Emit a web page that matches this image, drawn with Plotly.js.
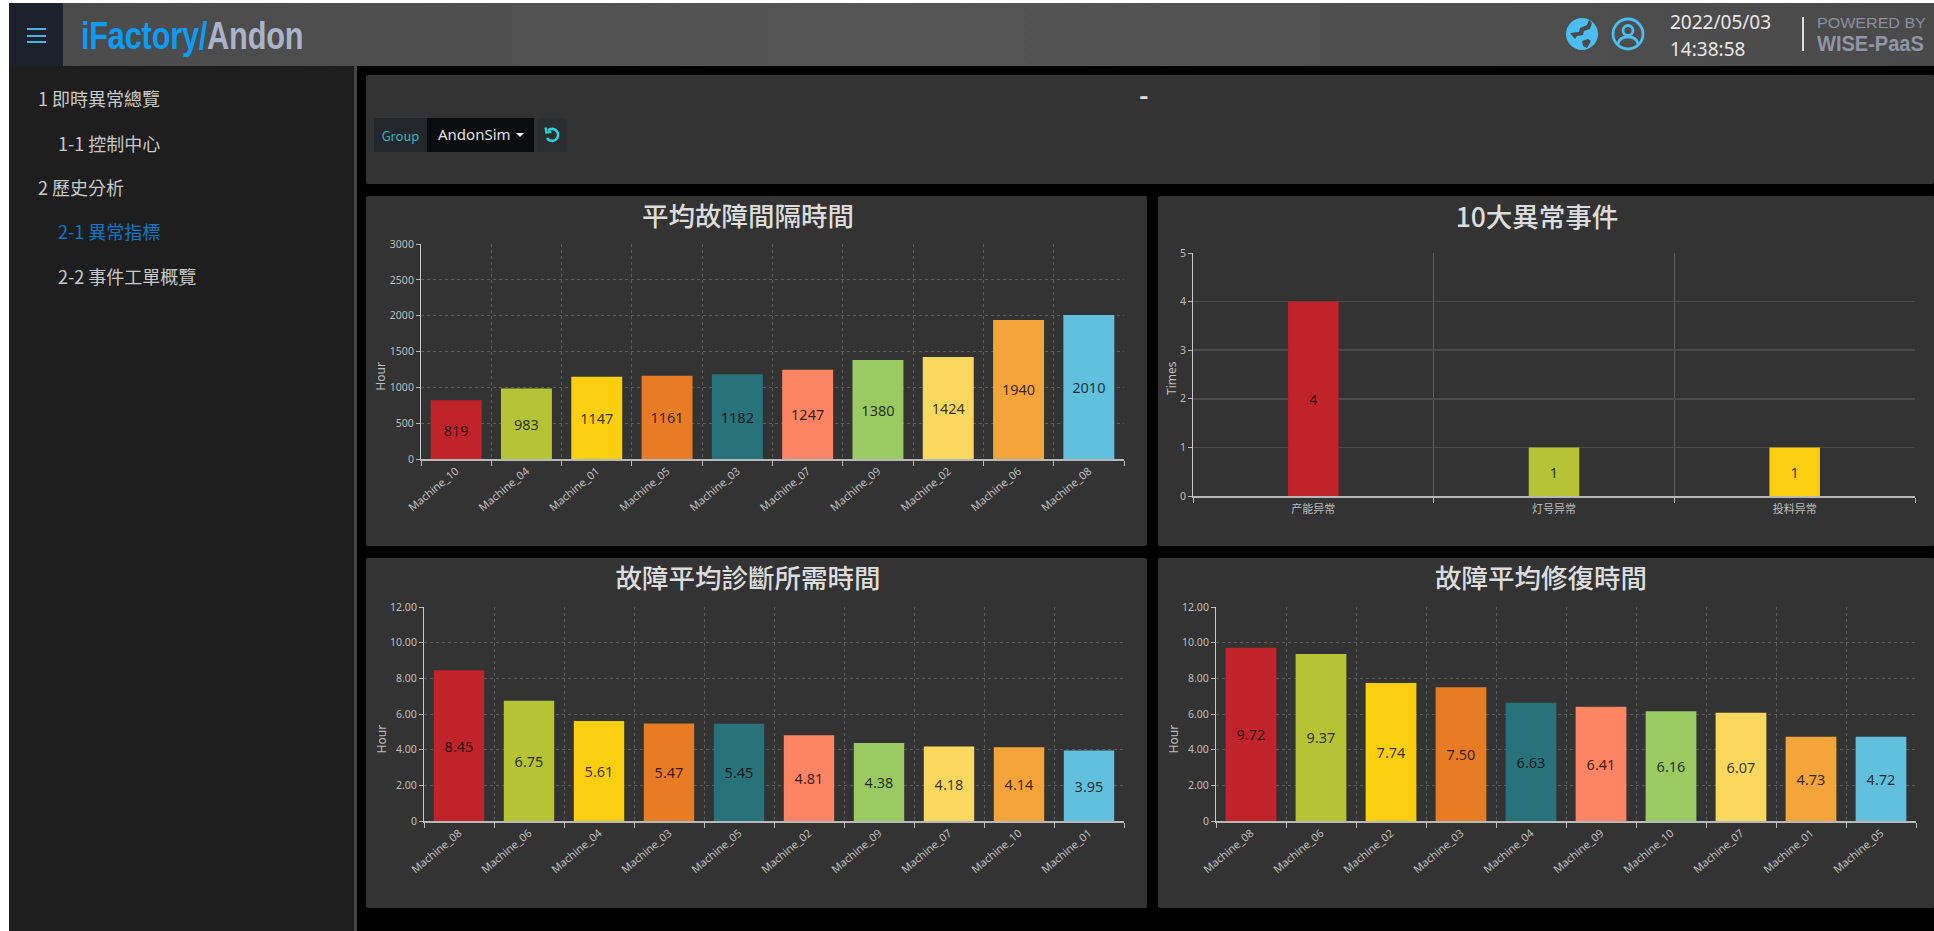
<!DOCTYPE html>
<html>
<head>
<meta charset="utf-8">
<script src="https://cdn.plot.ly/plotly-3.0.1.min.js"></script>
<style>
html,body{margin:0;padding:0;background:#000;width:1934px;height:931px;overflow:hidden;font-family:"Noto Sans CJK TC","Noto Sans",sans-serif}
.a{position:absolute;white-space:nowrap}
.panel{position:absolute;background:#333;border-radius:2px}
.nav{position:absolute;font-size:18px;line-height:24px;color:#c9c9c9;white-space:nowrap}
</style>
</head>
<body>
<div class="a" style="left:0;top:0;width:1934px;height:3px;background:#fff"></div>
<div class="a" style="left:0;top:0;width:9px;height:931px;background:#fff"></div>
<div class="a" style="left:9px;top:3px;width:1925px;height:63px;background:linear-gradient(90deg,#4a4a4a,#555 45%,#4a4a4a)"></div>
<div class="a" style="left:9px;top:3px;width:54px;height:63px;background:#1c212b"></div>
<div class="a" style="left:27px;top:28px;width:19px;height:2px;background:#3fb8e8"></div>
<div class="a" style="left:27px;top:35px;width:19px;height:2px;background:#3fb8e8"></div>
<div class="a" style="left:27px;top:41px;width:19px;height:2px;background:#3fb8e8"></div>
<div class="a" style="left:81px;top:13px;font:bold 38px/46px 'Liberation Sans';letter-spacing:-.3px;color:#0b9cf5;transform:scaleX(.81);transform-origin:left center">iFactory/<span style="color:#a9b4c9">Andon</span></div>

<svg class="a" style="left:1565px;top:17px" width="34" height="34" viewBox="0 0 34 34">
<circle cx="17" cy="17" r="16" fill="#4cbdf0"/>
<path d="M5 16l9-1 1-4 7-3 2-5 3 3-2 6-6 2-1 4-6 1-2 3z M17 24l6-2 3 2-4 7-4-2z" fill="#4a4a4a"/>
</svg>
<svg class="a" style="left:1611px;top:17px" width="34" height="34" viewBox="0 0 34 34" fill="none" stroke="#4cbdf0" stroke-width="2.8">
<circle cx="17" cy="17" r="15"/><circle cx="17" cy="13.5" r="5"/><path d="M7 27c1-6 6-7 10-7s9 1 10 7"/>
</svg>
<div class="a" style="left:1670px;top:9px;font-size:19px;line-height:27px;color:#e8e8e8;font-family:'Noto Sans'">2022/05/03<br>14:38:58</div>
<div class="a" style="left:1802px;top:17px;width:2px;height:34px;background:#ddd"></div>
<div class="a" style="left:1817px;top:14px;font:15px/17px 'Liberation Sans';color:#8b8f9e;transform:scaleX(1.07);transform-origin:left center">POWERED BY</div>
<div class="a" style="left:1817px;top:32px;font:bold 22px/24px 'Liberation Sans';color:#8f94a6;transform:scaleX(.91);transform-origin:left center">WISE-PaaS</div>

<div class="a" style="left:9px;top:66px;width:345px;height:865px;background:#1e1e1e"></div>
<div class="a" style="left:354px;top:66px;width:3px;height:865px;background:#444"></div>
<div class="nav" style="left:38px;top:86px">1 即時異常總覽</div>
<div class="nav" style="left:58px;top:131px">1-1 控制中心</div>
<div class="nav" style="left:38px;top:175px">2 歷史分析</div>
<div class="nav" style="left:58px;top:219px;color:#0a78c8">2-1 異常指標</div>
<div class="nav" style="left:58px;top:264px">2-2 事件工單概覽</div>

<div class="panel" style="left:366px;top:75px;width:1568px;height:109px"></div>
<div class="a" style="left:1139px;top:80px;font-size:26px;font-weight:700;line-height:28px;color:#ddd">-</div>
<div class="a" style="left:374px;top:118px;width:53px;height:34px;background:#24272b;color:#2bb5c0;font-size:13px;line-height:36px;text-align:center">Group</div>
<div class="a" style="left:427px;top:118px;width:107px;height:34px;background:#0b0c0e;color:#e0e0e0;font-size:15px;line-height:33px;text-indent:11px;font-family:'Noto Sans'">AndonSim</div>
<div class="a" style="left:516px;top:133px;width:0;height:0;border:4px solid transparent;border-top-color:#eee;border-bottom:0"></div>
<div class="a" style="left:537px;top:118px;width:30px;height:34px;background:#2b2e31"></div>
<svg class="a" style="left:543px;top:126px" width="18" height="18" viewBox="0 0 18 18" fill="none" stroke="#2fd0de" stroke-width="2.6">
<path d="M5 4.5A6 6 0 1 1 4 12"/><path d="M2.5 1.5l.8 5 5-.6" stroke-width="2.2"/>
</svg>

<div class="panel" style="left:366px;top:196px;width:781px;height:350px"><div id="c1"></div></div>
<div class="panel" style="left:1158px;top:196px;width:776px;height:350px"><div id="c2"></div></div>
<div class="panel" style="left:366px;top:558px;width:781px;height:350px"><div id="c3"></div></div>
<div class="panel" style="left:1158px;top:558px;width:776px;height:350px"><div id="c4"></div></div>

<script>
// Chart 1: mean time between failures
const mtbfTitle = "平均故障間隔時間";
const mtbfCategories = ["Machine_10","Machine_04","Machine_01","Machine_05","Machine_03","Machine_07","Machine_09","Machine_02","Machine_06","Machine_08"];
const mtbfValues = [819,983,1147,1161,1182,1247,1380,1424,1940,2010];
const mtbfTickVals = [0,500,1000,1500,2000,2500,3000];
const mtbfTickText = ["0","500","1000","1500","2000","2500","3000"];

// Chart 2: top 10 abnormal events
const eventsTitle = "10大異常事件";
const eventsCategories = ["产能异常","灯号异常","投料异常"];
const eventsValues = [4,1,1];
const eventsTickVals = [0,1,2,3,4,5];
const eventsTickText = ["0","1","2","3","4","5"];

// Chart 3: mean time to diagnose
const diagnoseTitle = "故障平均診斷所需時間";
const diagnoseCategories = ["Machine_08","Machine_06","Machine_04","Machine_03","Machine_05","Machine_02","Machine_09","Machine_07","Machine_10","Machine_01"];
const diagnoseValues = [8.45,6.75,5.61,5.47,5.45,4.81,4.38,4.18,4.14,3.95];

// Chart 4: mean time to repair
const repairTitle = "故障平均修復時間";
const repairCategories = ["Machine_08","Machine_06","Machine_02","Machine_03","Machine_04","Machine_09","Machine_10","Machine_07","Machine_01","Machine_05"];
const repairValues = [9.72,9.37,7.74,7.50,6.63,6.41,6.16,6.07,4.73,4.72];

const hourTickVals = [0,2,4,6,8,10,12];
const hourTickText = ["0","2.00","4.00","6.00","8.00","10.00","12.00"];
const palette = ["#C1232B","#B5C334","#FCCE10","#E87C25","#27727B","#FE8463","#9BCA63","#FAD860","#F3A43B","#60C0DD"];

const FONT = '"Noto Sans","Noto Sans CJK TC",sans-serif';

function draw(id, o){
  const w = o.w, h = 350;
  const data = [{
    type:"bar", x:o.cats, y:o.vals, text:o.labels,
    textposition:"inside", insidetextanchor:"middle", textangle:0, constraintext:"none",
    insidetextfont:{family:FONT,size:14.5,color:"rgba(0,0,0,0.78)"},
    marker:{color:palette.slice(0,o.cats.length),line:{width:0}},
    hoverinfo:"x+y", cliponaxis:false
  }];
  const layout = {
    width:w, height:h, showlegend:false,
    paper_bgcolor:"rgba(0,0,0,0)", plot_bgcolor:"rgba(0,0,0,0)",
    bargap:o.gap,
    margin:{l:o.l, r:w-o.r, t:o.t, b:h-o.b, pad:0},
    title:{text:o.title, x:o.tx/w, xref:"container", xanchor:"center", y:1-o.ty/h, yref:"container", yanchor:"middle",
           font:{family:'"Noto Sans CJK TC",sans-serif',size:26.5,weight:500,color:"#dcdcdc"}},
    xaxis:{type:"category", categoryorder:"array", categoryarray:o.cats, tickson:"boundaries",
           showgrid:true, gridcolor:o.solid?"#5e5e5e":"#5c5c5c", griddash:o.solid?"solid":"3px,3px", gridwidth:1,
           showline:true, linecolor:"#b8b8b8", linewidth:1.5,
           ticks:"outside", ticklen:5, tickcolor:"#b8b8b8", tickwidth:1,
           tickangle:o.angle, ticklabelstandoff:o.solid?2:0,
           tickfont:{family:o.solid?'"Noto Sans CJK SC",sans-serif':FONT,size:o.solid?11:11,color:"#bdbdbd"}, automargin:false},
    yaxis:{range:o.range, tickmode:"array", tickvals:o.tv, ticktext:o.tt,
           showgrid:true, gridcolor:o.solid?"#4b4b4b":"#5c5c5c", griddash:o.solid?"solid":"3px,3px", gridwidth:o.solid?1.5:1,
           zeroline:false, showline:true, linecolor:"#c8c8c8", linewidth:1,
           ticks:"outside", ticklen:4, tickcolor:"#b8b8b8", tickwidth:1,
           tickfont:{family:FONT,size:10.5,color:"#bdbdbd"}, automargin:false},
    annotations:[{text:o.ytitle, xref:"paper", yref:"paper", x:(o.ax-o.l)/(o.r-o.l), y:(o.b-o.ay)/(o.b-o.t),
                  textangle:-90, showarrow:false, xanchor:"center", yanchor:"middle",
                  font:{family:FONT,size:12,color:"#bdbdbd"}}]
  };
  Plotly.newPlot(id, data, layout, {displayModeBar:false, staticPlot:true});
}

draw("c1",{w:781,l:55,r:758,t:48,b:263.5,range:[0,3000],gap:0.275,angle:-40,
  cats:mtbfCategories,vals:mtbfValues,labels:mtbfValues.map(String),tv:mtbfTickVals,tt:mtbfTickText,
  title:mtbfTitle,tx:382,ty:21,ytitle:"Hour",ax:15,ay:181});
draw("c2",{w:776,l:35,r:757,t:57,b:300,range:[0,5],gap:0.79,angle:0,solid:true,
  cats:eventsCategories,vals:eventsValues,labels:eventsValues.map(String),tv:eventsTickVals,tt:eventsTickText,
  title:eventsTitle,tx:379,ty:22,ytitle:"Times",ax:13,ay:182});
draw("c3",{w:781,l:57.5,r:758,t:48.5,b:263.5,range:[0,12],gap:0.28,angle:-40,
  cats:diagnoseCategories,vals:diagnoseValues,labels:diagnoseValues.map(v=>v.toFixed(2)),tv:hourTickVals,tt:hourTickText,
  title:diagnoseTitle,tx:382,ty:21,ytitle:"Hour",ax:15,ay:181});
draw("c4",{w:776,l:57.5,r:758,t:48.5,b:263.5,range:[0,12],gap:0.275,angle:-40,
  cats:repairCategories,vals:repairValues,labels:repairValues.map(v=>v.toFixed(2)),tv:hourTickVals,tt:hourTickText,
  title:repairTitle,tx:383,ty:21,ytitle:"Hour",ax:15,ay:181});
</script>
</body>
</html>
